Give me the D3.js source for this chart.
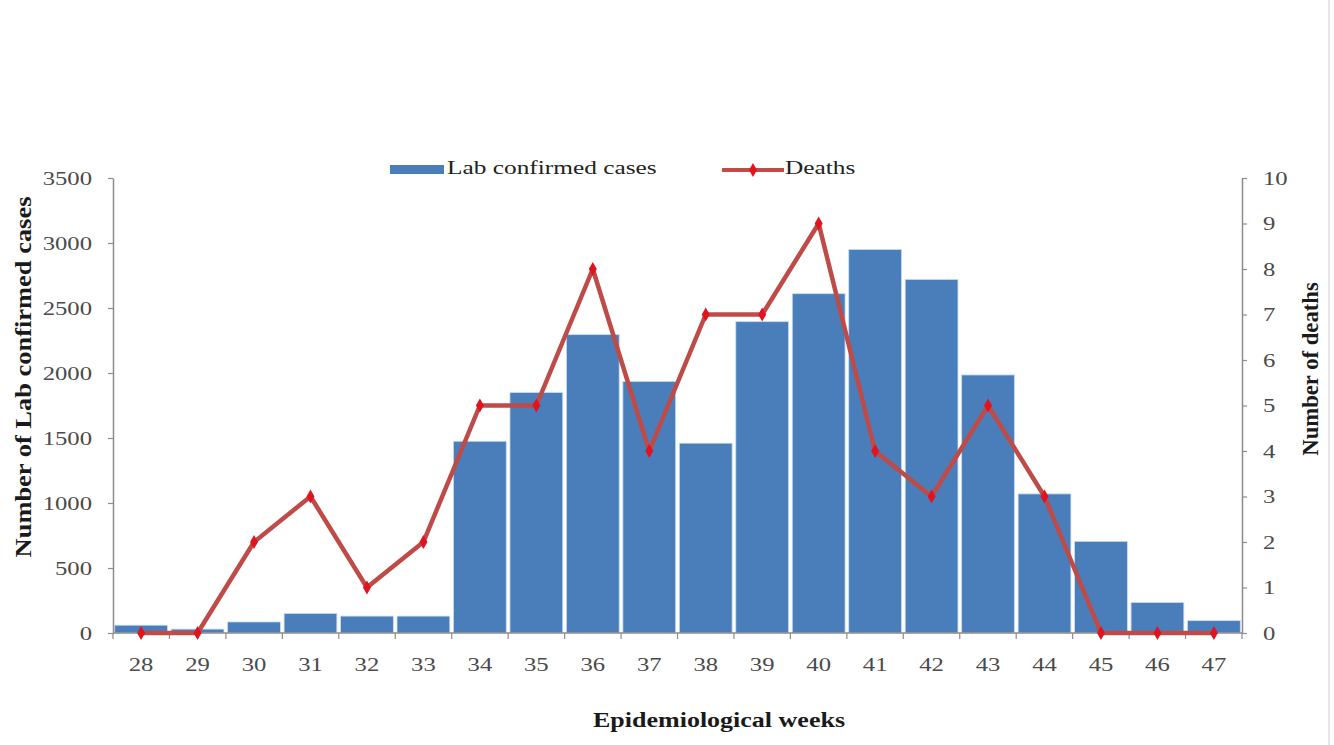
<!DOCTYPE html>
<html><head><meta charset="utf-8">
<script src="https://cdn.jsdelivr.net/npm/d3@7"></script>
<style>body{margin:0;background:#fff}svg{display:block}</style>
</head><body>
<svg id="c" width="1334" height="745"></svg>
<script>
const weeks = ["28","29","30","31","32","33","34","35","36","37","38","39","40","41","42","43","44","45","46","47"];
const cases = [60,30,85,150,130,130,1475,1850,2295,1935,1460,2395,2610,2950,2720,1985,1070,705,235,95];
const deaths = [0,0,2,3,1,2,5,5,8,4,7,7,9,4,3,5,3,0,0,0];
const leftTicks = [0,500,1000,1500,2000,2500,3000,3500];
const rightTicks = [0,1,2,3,4,5,6,7,8,9,10];
const seriesNames = ["Lab confirmed cases","Deaths"];

const svg = d3.select("#c");
const L = 113, R = 1242, T = 178, B = 633;
const SX = 1.3;
const font = "Liberation Serif, Times New Roman, serif";
const axisCol = "#8c8c8c", textCol = "#4a4a4a";

const x = d3.scaleBand().domain(weeks).range([L, R]).paddingInner(0.065).paddingOuter(0.03);
const yL = d3.scaleLinear().domain([0, 3500]).range([B, T]);
const yR = d3.scaleLinear().domain([0, 10]).range([B, T]);

// right border line
svg.append("line").attr("x1",1329).attr("x2",1329).attr("y1",0).attr("y2",745).attr("stroke","#e6e6e6").attr("stroke-width",2);

// bars
svg.append("g").selectAll("rect").data(cases).join("rect")
  .attr("x",(d,i)=>x(weeks[i])).attr("width",x.bandwidth())
  .attr("y",d=>yL(d)).attr("height",d=>B-yL(d))
  .attr("fill","#4a7ebb").attr("stroke","#c9dcf2").attr("stroke-width",0.8);

function styleAxis(g){
  g.select(".domain").attr("stroke",axisCol).attr("stroke-width",1.5);
  g.selectAll(".tick line").attr("stroke",axisCol).attr("stroke-width",1.2);
  g.selectAll(".tick text").attr("fill",textCol).style("font-family",font).style("font-size","19px");
}
// left axis
const gl = svg.append("g").attr("transform",`translate(${L},0)`)
  .call(d3.axisLeft(yL).tickValues(leftTicks).tickFormat(d3.format("d")).tickSize(5).tickSizeOuter(0).tickPadding(8));
styleAxis(gl);
gl.selectAll(".tick text").attr("x",null).attr("transform",`translate(-21,0) scale(${SX},1)`);
// right axis
const gr = svg.append("g").attr("transform",`translate(${R},0)`)
  .call(d3.axisRight(yR).tickValues(rightTicks).tickFormat(d3.format("d")).tickSize(5).tickSizeOuter(0).tickPadding(8));
styleAxis(gr);
gr.selectAll(".tick text").attr("x",null).attr("transform",`translate(21,0) scale(${SX},1)`);
// bottom axis
const gb = svg.append("g").attr("transform",`translate(0,${B})`)
  .call(d3.axisBottom(x).tickSize(0).tickSizeOuter(0));
styleAxis(gb);
gb.select(".domain").attr("d",`M${L},0H${R}`);
gb.selectAll(".tick text").attr("y",null).attr("dy",null).attr("transform",`translate(0,38) scale(${SX},1)`);
// boundary ticks
const bounds = d3.range(weeks.length+1).map(i=>L + i*(R-L)/weeks.length);
gb.selectAll("line.bt").data(bounds).join("line").attr("class","bt")
  .attr("x1",d=>d).attr("x2",d=>d).attr("y1",0).attr("y2",6).attr("stroke",axisCol).attr("stroke-width",1.2);

// deaths line
const cx = i => x(weeks[i]) + x.bandwidth()/2;
const line = d3.line().x((d,i)=>cx(i)).y(d=>yR(d));
svg.append("path").datum(deaths).attr("d",line).attr("fill","none")
  .attr("stroke","#be4b48").attr("stroke-width",4.5).attr("stroke-linejoin","round");
const diamond = d3.symbol().type(d3.symbolDiamond).size(55);
svg.append("g").selectAll("path").data(deaths).join("path")
  .attr("d",diamond).attr("transform",(d,i)=>`translate(${cx(i)},${yR(d)})`)
  .attr("fill","#e0141e");

// axis titles
function ttext(tx,ty,rot,str,size,sx,sy){
  svg.append("text").attr("transform",`translate(${tx},${ty}) rotate(${rot}) scale(${sx},${sy})`)
    .attr("text-anchor","middle").attr("dominant-baseline","middle")
    .style("font-family",font).style("font-size",size+"px").style("font-weight","bold")
    .attr("fill","#1a1a1a").text(str);
}
ttext(719,722,0,"Epidemiological weeks",20,SX,1);
ttext(26,377,-90,"Number of  Lab confirmed cases",21,1.26,1.12);
ttext(1313,369,-90,"Number of deaths",21,1.08,1.12);

// legend
const lg = svg.append("g");
lg.append("rect").attr("x",390).attr("y",165).attr("width",54).attr("height",9).attr("fill","#4a7ebb");
lg.append("text").attr("transform",`translate(447,170) scale(${SX},1)`).attr("dominant-baseline","middle")
  .style("font-family",font).style("font-size","19.5px").attr("fill","#222").text(seriesNames[0]);
lg.append("line").attr("x1",722).attr("x2",784).attr("y1",170).attr("y2",170).attr("stroke","#be4b48").attr("stroke-width",4);
lg.append("path").attr("d",diamond).attr("transform","translate(753,170)").attr("fill","#e0141e");
lg.append("text").attr("transform",`translate(785,170) scale(${SX},1)`).attr("dominant-baseline","middle")
  .style("font-family",font).style("font-size","19.5px").attr("fill","#222").text(seriesNames[1]);
</script>
</body></html>
